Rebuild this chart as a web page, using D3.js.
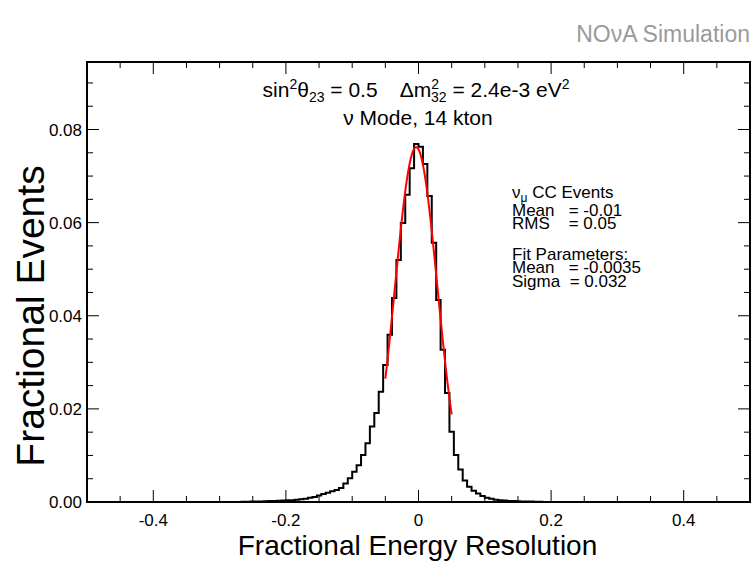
<!DOCTYPE html>
<html><head><meta charset="utf-8">
<script src="https://cdn.jsdelivr.net/npm/d3@7"></script>
<style>
body{margin:0;background:#fff;}
text{font-family:"Liberation Sans",Arial,Helvetica,sans-serif;}
</style></head>
<body><svg id="c" width="755" height="563"></svg>
<script>
// ---- data ----
const xDomain = [-0.5, 0.5];
const yDomain = [0, 0.0945];
const binWidth = 1 / 150;
const firstBinLow = -40 / 150;   // low edge of first non-empty bin
const fracEvents = [
  0.00005,0.00005,0.0001,0.0001,0.0001,0.00015,0.0002,0.0002,0.00025,0.0003,
  0.00035,0.0004,0.0005,0.0006,0.0007,0.0009,0.0011,0.0014,0.0017,0.0020,
  0.0023,0.0026,0.0030,0.0040,0.0051,0.0065,0.0079,0.0101,0.0126,0.0162,
  0.0191,0.0237,0.0294,0.0359,0.0438,0.0520,0.0599,0.0660,0.0717,0.0769,
  0.0763,0.0726,0.0657,0.0557,0.0434,0.0327,0.0234,0.0151,0.0101,0.0070,
  0.0046,0.0033,0.0024,0.0018,0.0013,0.0009,0.0007,0.0005,0.0004,0.0003,
  0.0002,0.0002,0.00015,0.0001,0.0001,0.0001,0.00005,0.00005
];
const fitMean = -0.0035, fitSigma = 0.032, fitAmp = 0.0762;
const fitRange = [-0.05, 0.05];
const xMajorTicks = [-0.4, -0.2, 0, 0.2, 0.4];
const xTickLabels = ["-0.4", "-0.2", "0", "0.2", "0.4"];
const yMajorTicks = [0, 0.02, 0.04, 0.06, 0.08];
const yTickLabels = ["0.00", "0.02", "0.04", "0.06", "0.08"];

// ---- layout ----
const L = 87, R = 750, T = 62, B = 502;
const svg = d3.select("#c");
const x = d3.scaleLinear().domain(xDomain).range([L, R]);
const y = d3.scaleLinear().domain(yDomain).range([B, T]);

// ticks
const xMinor = d3.range(-0.5, 0.5001, 0.05).map(v => +v.toFixed(3));
const yMinor = d3.range(0, 0.0945, 0.005).map(v => +v.toFixed(4));
const tk = svg.append("g").attr("stroke", "#000").attr("stroke-width", 1);
xMinor.forEach(v => {
  const major = xMajorTicks.some(m => Math.abs(m - v) < 1e-6);
  const len = major ? 12 : 6;
  tk.append("line").attr("x1", x(v)).attr("x2", x(v)).attr("y1", B).attr("y2", B - len);
  tk.append("line").attr("x1", x(v)).attr("x2", x(v)).attr("y1", T).attr("y2", T + len);
});
yMinor.forEach(v => {
  const major = yMajorTicks.some(m => Math.abs(m - v) < 1e-6);
  const len = major ? 12 : 6;
  tk.append("line").attr("x1", L).attr("x2", L + len).attr("y1", y(v)).attr("y2", y(v));
  tk.append("line").attr("x1", R).attr("x2", R - len).attr("y1", y(v)).attr("y2", y(v));
});

// tick labels
svg.append("g").selectAll("text").data(xMajorTicks).join("text")
  .attr("x", d => x(d)).attr("y", 526).attr("text-anchor", "middle")
  .attr("font-size", 17).text((d, i) => xTickLabels[i]);
svg.append("g").selectAll("text").data(yMajorTicks).join("text")
  .attr("x", 82).attr("y", d => y(d) + 6).attr("text-anchor", "end")
  .attr("font-size", 17).text((d, i) => yTickLabels[i]);

// histogram step path
const bins = fracEvents.map((v, i) => ({x0: firstBinLow + i * binWidth, x1: firstBinLow + (i + 1) * binWidth, v}));
let p = d3.path();
p.moveTo(x(xDomain[0]), y(0));
p.lineTo(x(bins[0].x0), y(0));
bins.forEach(b => { p.lineTo(x(b.x0), y(b.v)); p.lineTo(x(b.x1), y(b.v)); });
p.lineTo(x(bins[bins.length - 1].x1), y(0));
p.lineTo(x(xDomain[1]), y(0));
svg.append("path").attr("d", p.toString()).attr("fill", "none")
  .attr("stroke", "#000").attr("stroke-width", 2);

// fit curve
const fitX = d3.range(fitRange[0], fitRange[1] + 1e-9, 0.001);
svg.append("path").datum(fitX)
  .attr("d", d3.line().x(d => x(d)).y(d => y(fitAmp * Math.exp(-0.5 * ((d - fitMean) / fitSigma) ** 2))))
  .attr("fill", "none").attr("stroke", "#ff0000").attr("stroke-width", 2);

// frame
svg.append("rect").attr("x", L).attr("y", T).attr("width", R - L).attr("height", B - T)
  .attr("fill", "none").attr("stroke", "#000").attr("stroke-width", 2);

// axis titles
svg.append("text").attr("x", (L + R) / 2 - 1).attr("y", 555).attr("text-anchor", "middle")
  .attr("font-size", 28).text("Fractional Energy Resolution");
svg.append("text").attr("transform", "translate(44,316) rotate(-90)").attr("text-anchor", "middle")
  .attr("font-size", 39).text("Fractional Events");

// NOvA label
svg.append("text").attr("x", 750).attr("y", 42).attr("text-anchor", "end")
  .attr("font-size", 23).attr("fill", "#9a9a9a").text("NOνA Simulation");

// annotation line 1
const a1 = svg.append("text").attr("x", 416).attr("y", 97).attr("text-anchor", "middle")
  .attr("font-size", 21).style("white-space", "pre");
a1.append("tspan").text("sin");
a1.append("tspan").attr("font-size", 14).attr("dy", -8).text("2");
a1.append("tspan").attr("dy", 8).text("θ");
a1.append("tspan").attr("font-size", 14).attr("dy", 5).text("23");
a1.append("tspan").attr("dy", -5).text(" = 0.5    Δm");
a1.append("tspan").attr("font-size", 14).attr("dy", -8).text("2");
a1.append("tspan").attr("font-size", 14).attr("dx", -8).attr("dy", 13).text("32");
a1.append("tspan").attr("dy", -5).text(" = 2.4e-3 eV");
a1.append("tspan").attr("font-size", 14).attr("dy", -8).text("2");

svg.append("text").attr("x", 418).attr("y", 125).attr("text-anchor", "middle")
  .attr("font-size", 21).text("ν Mode, 14 kton");

// legend text
const lx = 512, lfs = 17;
const t0 = svg.append("text").attr("x", lx).attr("y", 198).attr("font-size", lfs);
t0.append("tspan").text("ν");
t0.append("tspan").attr("font-size", 12).attr("dy", 4).text("μ");
t0.append("tspan").attr("dy", -4).text(" CC Events");
const legendLines = ["Mean   = -0.01", "RMS    = 0.05", "Fit Parameters:", "Mean   = -0.0035", "Sigma  = 0.032"];
const legendBase = [216, 229, 260, 273, 287];
legendLines.forEach((s, i) => svg.append("text").attr("x", lx).attr("y", legendBase[i]).attr("font-size", lfs)
  .style("white-space", "pre").text(s));
</script></body></html>
